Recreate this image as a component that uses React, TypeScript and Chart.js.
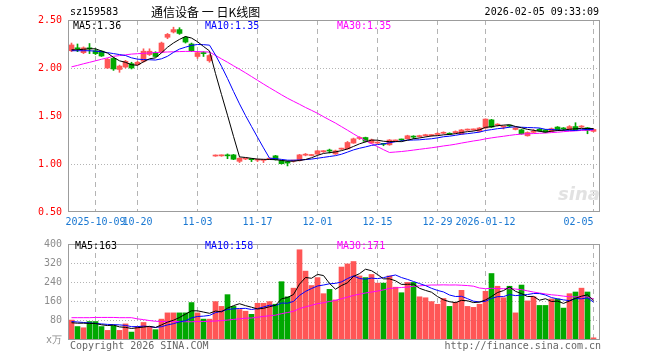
import React, { useEffect, useRef } from "react";
import { Chart, registerables } from "chart.js";

Chart.register(...registerables);

// ---- data (daily candles, 88 trading days) ----
const OPEN = [
  2.18, 2.21, 2.16, 2.21, 2.18, 2.175, 2.0, 2.1, 1.985, 2.01,
  2.045, 2.035, 2.07, 2.14, 2.16, 2.165, 2.32, 2.375, 2.4, 2.32,
  2.25, 2.12, 2.155, 2.075, 1.083, 1.085, 1.09, 1.095, 1.028, 1.052,
  1.05, 1.04, 1.038, 1.05, 1.085, 1.035, 1.025, 1.03, 1.035, 1.092,
  1.088, 1.103, 1.128, 1.14, 1.105, 1.155, 1.158, 1.218, 1.266, 1.276,
  1.218, 1.218, 1.21, 1.2, 1.24, 1.255, 1.262, 1.285, 1.285, 1.295,
  1.296, 1.308, 1.32, 1.315, 1.325, 1.313, 1.353, 1.355, 1.34, 1.375,
  1.46, 1.405, 1.385, 1.4, 1.36, 1.356, 1.294, 1.33, 1.362, 1.356,
  1.34, 1.385, 1.37, 1.356, 1.39, 1.385, 1.377, 1.34,
];
const HIGH = [
  2.26, 2.25, 2.22, 2.255, 2.2, 2.18, 2.1, 2.11, 2.03, 2.08,
  2.06, 2.07, 2.2, 2.2, 2.17, 2.27, 2.36, 2.425, 2.42, 2.33,
  2.26, 2.17, 2.17, 2.14, 1.095, 1.095, 1.105, 1.1, 1.065, 1.06,
  1.055, 1.048, 1.045, 1.06, 1.09, 1.04, 1.03, 1.04, 1.1, 1.11,
  1.1, 1.14, 1.14, 1.155, 1.145, 1.165, 1.235, 1.27, 1.285, 1.28,
  1.26, 1.23, 1.215, 1.255, 1.25, 1.26, 1.3, 1.295, 1.3, 1.31,
  1.305, 1.325, 1.335, 1.325, 1.345, 1.36, 1.365, 1.365, 1.38, 1.47,
  1.465, 1.42, 1.395, 1.405, 1.38, 1.36, 1.335, 1.36, 1.37, 1.36,
  1.375, 1.39, 1.38, 1.4, 1.43, 1.4, 1.38, 1.365,
];
const LOW = [
  2.17, 2.17, 2.15, 2.15, 2.14, 2.12, 1.995, 1.975, 1.955, 2.0,
  1.99, 2.03, 2.06, 2.13, 2.115, 2.16, 2.305, 2.365, 2.35, 2.26,
  2.17, 2.1, 2.12, 2.06, 1.08, 1.08, 1.055, 1.045, 1.015, 1.045,
  1.025, 1.025, 1.015, 1.045, 1.04, 1.0, 0.98, 1.02, 1.03, 1.085,
  1.085, 1.1, 1.12, 1.115, 1.1, 1.15, 1.155, 1.215, 1.255, 1.23,
  1.215, 1.21, 1.19, 1.195, 1.235, 1.24, 1.26, 1.265, 1.28, 1.29,
  1.29, 1.3, 1.315, 1.305, 1.32, 1.31, 1.35, 1.35, 1.335, 1.37,
  1.38, 1.395, 1.365, 1.385, 1.355, 1.31, 1.29, 1.325, 1.34, 1.325,
  1.335, 1.35, 1.35, 1.35, 1.35, 1.38, 1.315, 1.335,
];
const CLOSE = [
  2.24, 2.2, 2.21, 2.2, 2.15, 2.125, 2.09, 1.99, 2.02, 2.07,
  2.0, 2.06, 2.175, 2.175, 2.12, 2.26, 2.35, 2.4, 2.36, 2.27,
  2.18, 2.16, 2.15, 2.13, 1.088, 1.088, 1.085, 1.05, 1.06, 1.055,
  1.045, 1.043, 1.04, 1.053, 1.045, 1.003, 1.01, 1.033, 1.095, 1.095,
  1.092, 1.137, 1.13, 1.135, 1.137, 1.158, 1.224, 1.262, 1.27, 1.236,
  1.252, 1.22, 1.205, 1.25, 1.242, 1.25, 1.294, 1.28, 1.288, 1.298,
  1.298, 1.312, 1.323, 1.31, 1.338, 1.355, 1.357, 1.357, 1.375, 1.468,
  1.385, 1.409, 1.39, 1.395, 1.375, 1.315, 1.328, 1.34, 1.345, 1.33,
  1.368, 1.356, 1.365, 1.39, 1.356, 1.39, 1.35, 1.36,
];
const MA5 = [
  2.19, 2.19, 2.195, 2.2, 2.2, 2.177, 2.155, 2.111, 2.075, 2.059,
  2.034, 2.028, 2.065, 2.096, 2.106, 2.158, 2.216, 2.261, 2.298, 2.328,
  2.312, 2.274, 2.224, 2.178, 1.942, 1.723, 1.508, 1.288, 1.074, 1.068,
  1.059, 1.051, 1.049, 1.047, 1.045, 1.037, 1.03, 1.029, 1.037, 1.047,
  1.065, 1.09, 1.11, 1.118, 1.126, 1.139, 1.157, 1.183, 1.21, 1.23,
  1.249, 1.248, 1.237, 1.233, 1.234, 1.233, 1.248, 1.263, 1.271, 1.282,
  1.292, 1.295, 1.304, 1.308, 1.316, 1.328, 1.337, 1.343, 1.356, 1.382,
  1.388, 1.399, 1.405, 1.409, 1.391, 1.377, 1.361, 1.351, 1.341, 1.332,
  1.342, 1.348, 1.353, 1.362, 1.367, 1.371, 1.37, 1.369,
];
const MA10 = [
  2.18, 2.18, 2.18, 2.18, 2.175, 2.17, 2.16, 2.15, 2.14, 2.13,
  2.106, 2.092, 2.088, 2.086, 2.083, 2.096, 2.122, 2.163, 2.197, 2.217,
  2.235, 2.245, 2.243, 2.238, 2.135, 2.018, 1.891, 1.756, 1.626, 1.505,
  1.391, 1.279, 1.168, 1.061, 1.056, 1.048, 1.04, 1.039, 1.042, 1.046,
  1.051, 1.06, 1.069, 1.078, 1.087, 1.102, 1.124, 1.147, 1.164, 1.178,
  1.194, 1.202, 1.21, 1.221, 1.232, 1.241, 1.248, 1.25, 1.252, 1.258,
  1.263, 1.272, 1.284, 1.29, 1.299, 1.31, 1.316, 1.324, 1.332, 1.349,
  1.358, 1.368, 1.374, 1.383, 1.387, 1.383, 1.38, 1.378, 1.375, 1.361,
  1.36, 1.354, 1.352, 1.351, 1.349, 1.357, 1.359, 1.361,
];
const MA30 = [
  2.012, 2.027, 2.044, 2.059, 2.075, 2.091, 2.106, 2.122, 2.129, 2.137,
  2.145, 2.149, 2.153, 2.157, 2.161, 2.164, 2.167, 2.169, 2.171, 2.173,
  2.173, 2.171, 2.169, 2.166, 2.131, 2.095, 2.06, 2.023, 1.987, 1.95,
  1.911, 1.872, 1.833, 1.795, 1.758, 1.721, 1.685, 1.653, 1.622, 1.589,
  1.559, 1.528, 1.493, 1.459, 1.426, 1.389, 1.352, 1.314, 1.277, 1.243,
  1.212, 1.181, 1.149, 1.12, 1.125, 1.13, 1.137, 1.145, 1.153, 1.161,
  1.169, 1.178, 1.188, 1.196, 1.206, 1.218, 1.229, 1.24, 1.249, 1.262,
  1.272, 1.281, 1.289, 1.298, 1.306, 1.311, 1.315, 1.317, 1.32, 1.323,
  1.327, 1.331, 1.337, 1.341, 1.345, 1.35, 1.352, 1.354,
];
const VOLUME = [
  83, 56, 51, 77, 77, 56, 40, 60, 40, 67,
  33, 56, 73, 56, 43, 87, 113, 113, 113, 113,
  156, 113, 87, 87, 160, 140, 189, 140, 127, 120,
  107, 153, 153, 160, 149, 243, 180, 216, 376, 287,
  227, 260, 193, 211, 167, 304, 317, 327, 267, 260,
  273, 237, 237, 267, 220, 197, 240, 240, 180, 176,
  160, 149, 173, 140, 157, 207, 140, 136, 149, 203,
  277, 224, 176, 224, 113, 229, 163, 180, 144, 144,
  171, 171, 133, 193, 200, 216, 200, 9,
];
const VMA5 = [
  72, 70, 70, 69, 68.8, 63.4, 60.2, 62, 54.6, 52.6,
  48, 51.2, 53.8, 57, 52.2, 63, 74.4, 82.4, 93.8, 107.8,
  121.6, 121.6, 116.4, 111.2, 120.6, 117.4, 132.6, 143.2, 151.2, 143.2,
  136.6, 129.4, 132, 138.6, 144.4, 171.6, 177, 189.6, 232.8, 260.4,
  257.2, 273.2, 268.6, 235.6, 211.6, 227, 238.4, 265.2, 276.4, 295,
  288.8, 272.8, 254.8, 254.8, 246.8, 231.6, 232.2, 232.8, 215.4, 206.6,
  199.2, 181, 167.6, 159.6, 155.8, 165.2, 163.4, 156, 157.8, 167,
  181, 197.8, 205.8, 220.8, 202.8, 193.2, 181, 181.8, 165.8, 172,
  160.4, 162, 152.6, 162.4, 173.6, 182.6, 188.4, 163.6,
];
const VMA10 = [
  77, 75, 73, 71, 69, 67, 65, 64, 63, 60.7,
  55.7, 55.7, 57.9, 55.8, 52.4, 55.5, 62.8, 68.1, 75.4, 80,
  92.3, 98, 99.4, 102.5, 114.2, 119.5, 127.1, 129.8, 131.2, 131.9,
  127, 131, 137.6, 144.9, 143.8, 154.1, 153.2, 160.8, 185.7, 202.4,
  214.4, 225.1, 229.1, 234.2, 236, 242.1, 255.8, 266.9, 256, 253.3,
  257.9, 255.6, 260, 265.6, 270.9, 260.2, 252.5, 243.8, 235.1, 226.7,
  215.4, 206.6, 200.2, 187.5, 181.2, 182.2, 172.2, 161.8, 158.7, 161.4,
  173.1, 180.6, 180.9, 189.3, 184.9, 187.1, 189.4, 193.8, 193.3, 187.4,
  176.8, 171.5, 167.2, 164.1, 172.8, 171.5, 175.2, 158.1,
];
const VMA30 = [
  93, 93, 93, 93, 94, 94, 94, 94, 93, 93,
  93, 88, 85, 81, 78, 77, 77, 77, 77, 76,
  76, 77, 77, 78, 79, 81, 83, 86, 88, 90.9,
  91.7, 94.9, 98.3, 101.1, 103.5, 109.7, 114.4, 119.6, 130.8, 138.1,
  144.6, 151.4, 155.4, 160.5, 164.7, 171.9, 178.7, 185.8, 191, 195.9,
  199.8, 203.9, 208.9, 214.9, 216.9, 218.8, 220.5, 223.8, 225.6, 227.5,
  229.2, 229.1, 229.8, 229.1, 229.4, 228.2, 226.8, 224.2, 216.6, 213.8,
  215.5, 214.3, 213.7, 214.1, 212.3, 209.8, 204.7, 199.8, 195.7, 191.8,
  188.4, 186.2, 182.8, 180.3, 179.6, 180.3, 178.9, 171.2,
];

const DATE_TICK_INDEX = [4, 11, 21, 31, 41, 51, 61, 69, 87];
const DATE_TICK_LABELS = ["2025-10-09", "10-20", "11-03", "11-17", "12-01", "12-15", "12-29", "2026-01-12", "02-05"];
const PRICE_TICKS = [0.5, 1.0, 1.5, 2.0, 2.5];
const VOLUME_TICKS = [0, 80, 160, 240, 320, 400];

// ---- styles ----
const UP = "#ff5656";
const DOWN = "#00a800";
const MONO = '"DejaVu Sans Mono", "Liberation Mono", monospace';
const CJK = '"Noto Sans CJK SC", "Noto Sans", sans-serif';
const GRID = "#b4b4b4";
const CLEAR = "rgba(0,0,0,0)";
const X_MIN = -0.5 - 0.5 / 6;
const X_MAX = X_MIN + 532 / 6;

const IDX = CLOSE.map((_, i) => i);
const candleColors = IDX.map((i) => (CLOSE[i] >= OPEN[i] ? UP : DOWN));

const boxPlugin = {
  id: "box",
  afterDraw(chart: any) {
    const { ctx, chartArea } = chart;
    ctx.save();
    ctx.strokeStyle = "#9c9c9c";
    ctx.lineWidth = 1;
    ctx.strokeRect(
      chartArea.left + 0.5,
      chartArea.top + 0.5,
      chartArea.right - chartArea.left - 1,
      chartArea.bottom - chartArea.top - 1
    );
    ctx.restore();
  },
};

function xAxis(showLabels: boolean, height: number) {
  return {
    type: "linear",
    min: X_MIN,
    max: X_MAX,
    offset: false,
    afterBuildTicks: (s: any) => {
      s.ticks = [{ value: X_MIN }, ...DATE_TICK_INDEX.map((v) => ({ value: v }))];
    },
    afterFit: (s: any) => {
      s.height = height;
    },
    grid: {
      offset: false,
      drawTicks: false,
      lineWidth: 1,
      color: (c: any) => (c.index === 0 ? CLEAR : GRID),
    },
    border: { display: false, dash: [5, 4] },
    ticks: {
      display: showLabels,
      autoSkip: false,
      maxRotation: 0,
      minRotation: 0,
      align: "inner",
      padding: 4,
      color: "#1a78d2",
      font: { family: MONO, size: 10 },
      callback: (v: any) => {
        const k = DATE_TICK_INDEX.indexOf(v);
        return k >= 0 ? DATE_TICK_LABELS[k] : "";
      },
    },
  };
}

function line(label: string, values: number[], color: string) {
  return {
    type: "line",
    label,
    data: IDX.map((i) => ({ x: i, y: values[i] })),
    borderColor: color,
    borderWidth: 1,
    pointRadius: 0,
    tension: 0,
    order: 0,
  };
}

function Txt(props: { x: number; y: number; color?: string; right?: boolean; size?: number; family?: string; children: any; style?: any }) {
  const { x, y, color = "#000", right = false, size = 10, family = MONO, children, style } = props;
  return (
    <div
      style={{
        position: "absolute",
        left: right ? undefined : x,
        right: right ? 660 - x : undefined,
        top: y - 7,
        height: 14,
        lineHeight: "14px",
        fontSize: size,
        fontFamily: family,
        color,
        whiteSpace: "pre",
        ...style,
      }}
    >
      {children}
    </div>
  );
}

export default function App() {
  const priceRef = useRef<HTMLCanvasElement>(null);
  const volRef = useRef<HTMLCanvasElement>(null);

  useEffect(() => {
    const price = new Chart(priceRef.current as HTMLCanvasElement, {
      type: "bar",
      data: {
        datasets: [
          {
            type: "bar",
            label: "shadow",
            data: IDX.map((i) => ({ x: i, y: [LOW[i], HIGH[i]] })),
            backgroundColor: candleColors,
            barThickness: 1,
            grouped: false,
            order: 2,
          } as any,
          {
            type: "bar",
            label: "body",
            data: IDX.map((i) => ({ x: i, y: [OPEN[i], CLOSE[i]] })),
            backgroundColor: candleColors,
            barThickness: 5,
            minBarLength: 1,
            grouped: false,
            order: 1,
          } as any,
          line("MA5", MA5, "#000000") as any,
          line("MA10", MA10, "#0000ff") as any,
          line("MA30", MA30, "#ff00ff") as any,
        ],
      },
      options: {
        responsive: false,
        animation: false,
        events: [],
        layout: { padding: { top: 20, right: 60, left: 0, bottom: 0 } },
        plugins: { legend: { display: false }, tooltip: { enabled: false } },
        scales: {
          x: xAxis(true, 24) as any,
          y: {
            type: "linear",
            min: 0.5,
            max: 2.5,
            afterBuildTicks: (s: any) => {
              s.ticks = PRICE_TICKS.map((v) => ({ value: v }));
            },
            afterFit: (s: any) => {
              s.width = 68;
            },
            grid: {
              drawTicks: false,
              lineWidth: 1,
              color: (c: any) => (c.index === 0 || c.index === PRICE_TICKS.length - 1 ? CLEAR : GRID),
            },
            border: { display: false, dash: [1, 2] },
            ticks: {
              padding: 6,
              color: "#ff0000",
              font: { family: MONO, size: 10 },
              callback: (v: any) => Number(v).toFixed(2),
            },
          } as any,
        },
      },
      plugins: [boxPlugin],
    });

    const vol = new Chart(volRef.current as HTMLCanvasElement, {
      type: "bar",
      data: {
        datasets: [
          {
            type: "bar",
            label: "volume",
            data: IDX.map((i) => ({ x: i, y: VOLUME[i] })),
            backgroundColor: candleColors,
            barThickness: 5,
            grouped: false,
            order: 1,
          } as any,
          line("MA5", VMA5, "#000000") as any,
          line("MA10", VMA10, "#0000ff") as any,
          line("MA30", VMA30, "#ff00ff") as any,
        ],
      },
      options: {
        responsive: false,
        animation: false,
        events: [],
        layout: { padding: { top: 8, right: 60, left: 0, bottom: 0 } },
        plugins: { legend: { display: false }, tooltip: { enabled: false } },
        scales: {
          x: xAxis(false, 20) as any,
          y: {
            type: "linear",
            min: 0,
            max: 400,
            afterBuildTicks: (s: any) => {
              s.ticks = VOLUME_TICKS.map((v) => ({ value: v }));
            },
            afterFit: (s: any) => {
              s.width = 68;
            },
            grid: {
              drawTicks: false,
              lineWidth: 1,
              color: (c: any) => (c.index === 0 || c.index === VOLUME_TICKS.length - 1 ? CLEAR : GRID),
            },
            border: { display: false, dash: [1, 2] },
            ticks: {
              padding: 6,
              color: "#8c8c8c",
              font: { family: MONO, size: 10 },
              callback: (v: any) => (Number(v) === 0 ? "x万" : String(v)),
            },
          } as any,
        },
      },
      plugins: [boxPlugin],
    });

    return () => {
      price.destroy();
      vol.destroy();
    };
  }, []);

  return (
    <div style={{ position: "fixed", left: 0, top: 0, width: 660, height: 360, background: "#fff", overflow: "hidden" }}>
      <canvas ref={priceRef} width={660} height={236} style={{ position: "absolute", left: 0, top: 0 }} />
      <canvas ref={volRef} width={660} height={128} style={{ position: "absolute", left: 0, top: 232 }} />

      <Txt x={70} y={12}>sz159583</Txt>
      <Txt x={151} y={12} size={12} family={CJK}>通信设备 一 日K线图</Txt>
      <Txt x={599} y={12} right>2026-02-05 09:33:09</Txt>

      <Txt x={73} y={26}>MA5:1.36</Txt>
      <Txt x={205} y={26} color="#0000ff">MA10:1.35</Txt>
      <Txt x={337} y={26} color="#ff00ff">MA30:1.35</Txt>

      <Txt x={75} y={246}>MA5:163</Txt>
      <Txt x={205} y={246} color="#0000ff">MA10:158</Txt>
      <Txt x={337} y={246} color="#ff00ff">MA30:171</Txt>

      <Txt x={558} y={194} color="#e2e2e2" size={18} family='"DejaVu Sans", sans-serif' style={{ fontStyle: "italic", fontWeight: "bold" }}>sina</Txt>

      <Txt x={70} y={346} color="#666666">Copyright 2026 SINA.COM</Txt>
      <Txt x={601} y={346} color="#666666" right>http://finance.sina.com.cn</Txt>
    </div>
  );
}
